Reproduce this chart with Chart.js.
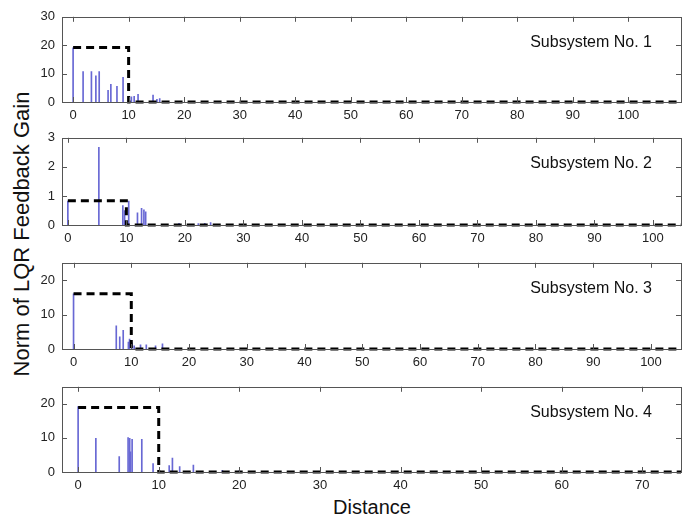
<!DOCTYPE html>
<html><head><meta charset="utf-8">
<script src="https://cdn.jsdelivr.net/npm/chart.js@4/dist/chart.umd.min.js"></script>
<style>
html,body{margin:0;padding:0;background:#fff;}
body{width:698px;height:519px;position:relative;overflow:hidden;font-family:"Liberation Sans",Arial,sans-serif;}
.pane{position:absolute;left:0;width:698px;}
#ytitle{position:absolute;left:22px;top:234px;transform:translate(-50%,-50%) rotate(-90deg);white-space:nowrap;font-size:22px;color:#111;}
#xtitle{position:absolute;left:372px;top:507px;transform:translate(-50%,-50%);white-space:nowrap;font-size:20px;color:#111;}
</style></head>
<body>
<div id="ytitle">Norm of LQR Feedback Gain</div>
<div id="xtitle">Distance</div>
<script>
// ---- data ----
const panelLabels = ["Subsystem No. 1","Subsystem No. 2","Subsystem No. 3","Subsystem No. 4"];
const dist1 = [0, 1.8, 3.3, 4.1, 4.7, 6.3, 6.8, 7.9, 9.0, 10.5, 11.0, 11.7, 14.4, 15.1, 15.6];
const gain1 = [19.1, 10.7, 10.7, 9.2, 10.7, 4.1, 6.2, 5.5, 8.7, 1.8, 2.0, 2.7, 2.4, 0.9, 1.2];
const dist2 = [0, 5.3, 9.4, 9.7, 10.4, 11.9, 12.6, 13.0, 13.3, 19.0, 22.3, 23.4, 24.4];
const gain2 = [0.82, 2.67, 0.67, 0.5, 0.82, 0.42, 0.57, 0.52, 0.45, 0.06, 0.05, 0.06, 0.08];
const dist3 = [0, 7.4, 8.0, 8.6, 9.5, 9.7, 10.1, 10.5, 11.6, 12.6, 14.2, 15.4];
const gain3 = [16.0, 6.7, 3.5, 5.4, 2.0, 2.9, 1.8, 0.9, 1.2, 1.2, 0.9, 1.5];
const dist4 = [0, 2.2, 5.1, 6.2, 6.4, 6.5, 6.7, 7.9, 9.3, 11.3, 11.7, 12.6, 14.3, 17.9, 20.0];
const gain4 = [19.2, 9.9, 4.5, 10.1, 9.9, 5.9, 9.6, 9.6, 2.5, 1.9, 4.1, 1.6, 2.0, 0.5, 0.4];
// dashed bound: level over [0, cutoff], then zero
const boundLevel = [19.2, 0.83, 16.0, 18.9];
const boundCutoff = [10, 10, 10, 10];
// axis ranges and ticks
const xMin = [-2, -1, -2, -2];
const xMax = [109.5, 104.8, 105.2, 74.8];
const yMax = [30, 3, 25, 25];
const yStep = [10, 1, 10, 10];
const xStep = [10, 10, 10, 10];

// ---- layout (plot area positions) ----
const plotTop = [10, 131, 256, 380];
const plotBottom = [102, 225, 349, 472];
const PADT = 8, XH = 26, YW = 62, PADR = 17;

const boxPlugin = {
  id: 'box',
  afterDatasetsDraw(chart, args, opts) {
    const {ctx, chartArea: a, scales: {x, y}} = chart;
    ctx.save();
    ctx.strokeStyle = '#555';
    ctx.lineWidth = 1;
    ctx.beginPath();
    const L = 5;
    x.ticks.forEach(t => {
      const px = Math.round(x.getPixelForValue(t.value)) + 0.5;
      ctx.moveTo(px, a.bottom); ctx.lineTo(px, a.bottom - L);
      ctx.moveTo(px, a.top); ctx.lineTo(px, a.top + L);
    });
    y.ticks.forEach(t => {
      const py = Math.round(y.getPixelForValue(t.value)) + 0.5;
      ctx.moveTo(a.left, py); ctx.lineTo(a.left + L, py);
      ctx.moveTo(a.right, py); ctx.lineTo(a.right - L, py);
    });
    ctx.stroke();
    ctx.strokeRect(Math.round(a.left) + 0.5, Math.round(a.top) + 0.5,
                   Math.round(a.right - a.left), Math.round(a.bottom - a.top));
    ctx.fillStyle = '#111';
    ctx.font = '16px "Liberation Sans", Arial, sans-serif';
    ctx.textAlign = 'right';
    ctx.textBaseline = 'middle';
    ctx.fillText(opts.label, a.right - 29, a.top + 26);
    ctx.restore();
  }
};

function makePanel(i, dist, gain) {
  const div = document.createElement('div');
  div.className = 'pane';
  const h = (plotBottom[i] - plotTop[i]) + PADT + XH;
  div.style.top = (plotTop[i] - PADT) + 'px';
  div.style.height = h + 'px';
  const cv = document.createElement('canvas');
  div.appendChild(cv);
  document.body.appendChild(div);
  const bars = dist.map((d, k) => ({x: d, y: gain[k]}));
  const bound = [
    {x: 0, y: boundLevel[i]},
    {x: boundCutoff[i], y: boundLevel[i]},
    {x: boundCutoff[i], y: 0},
    {x: xMax[i], y: 0}
  ];
  new Chart(cv, {
    data: {
      datasets: [
        {type: 'line', data: bound, borderColor: '#000', borderWidth: 3,
         borderDash: [8, 5], pointRadius: 0, tension: 0, fill: false, clip: 4},
        {type: 'bar', data: bars, backgroundColor: 'rgb(104,104,212)',
         borderWidth: 0, barThickness: 1, grouped: false}
      ]
    },
    options: {
      responsive: true, maintainAspectRatio: false, animation: false,
      layout: {padding: {top: PADT, right: PADR, left: 0, bottom: 0}},
      plugins: {legend: {display: false}, tooltip: {enabled: false}, box: {label: panelLabels[i]}},
      scales: {
        x: {type: 'linear', min: xMin[i], max: xMax[i], offset: false,
            grid: {display: false, drawTicks: false}, border: {display: false},
            afterFit(s) { s.height = XH; },
            ticks: {stepSize: xStep[i], includeBounds: false, padding: 6, maxRotation: 0, autoSkip: false,
                    color: '#222', font: {size: 13, family: '"Liberation Sans", Arial, sans-serif'}}},
        y: {min: 0, max: yMax[i], grid: {display: false, drawTicks: false}, border: {display: false},
            afterFit(s) { s.width = YW; },
            ticks: {stepSize: yStep[i], includeBounds: false, padding: 7,
                    color: '#222', font: {size: 13, family: '"Liberation Sans", Arial, sans-serif'}}}
      }
    },
    plugins: [boxPlugin]
  });
}
makePanel(0, dist1, gain1);
makePanel(1, dist2, gain2);
makePanel(2, dist3, gain3);
makePanel(3, dist4, gain4);
</script>
</body></html>
